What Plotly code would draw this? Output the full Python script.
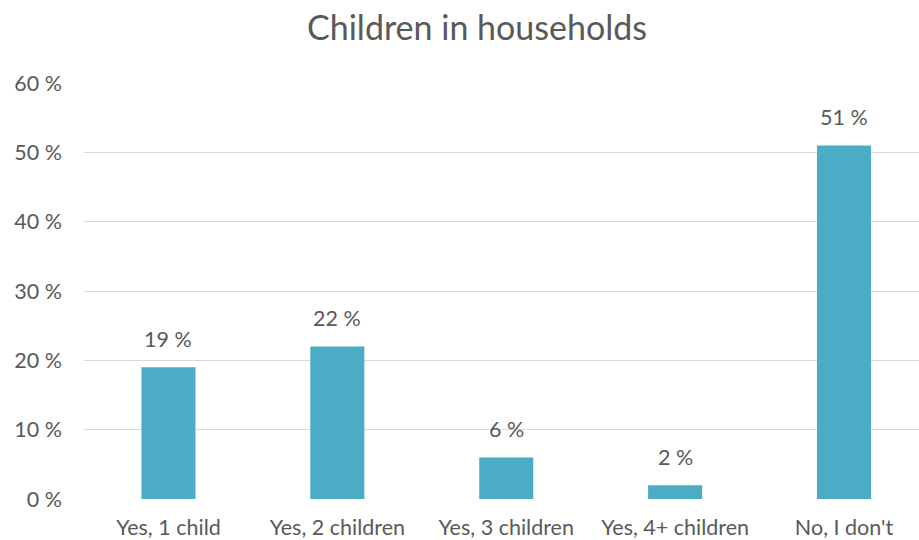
import plotly.graph_objects as go

categories = ["Yes, 1 child", "Yes, 2 children", "Yes, 3 children", "Yes, 4+ children", "No, I don't"]
shares = [19, 22, 6, 2, 51]
y_ticks = [0, 10, 20, 30, 40, 50, 60]
y_tick_labels = [f"{v} %" for v in y_ticks]

BAR = "#4BACC6"
TEXT = "#595959"
FONT = "Lato"
LABEL_SIZE = 21.5

fig = go.Figure(
    go.Bar(
        x=categories,
        y=shares,
        marker=dict(color=BAR, line=dict(width=0)),
        width=0.32,
        hoverinfo="skip",
    )
)

# value labels above each bar
for cat, v in zip(categories, shares):
    fig.add_annotation(
        x=cat, y=v, xref="x", yref="y",
        text=f"{v} %", showarrow=False,
        yanchor="bottom", yshift=13,
        font=dict(family=FONT, size=LABEL_SIZE, color=TEXT),
    )

fig.update_layout(
    width=919, height=540,
    margin=dict(l=84, r=0, t=83, b=41),
    paper_bgcolor="white", plot_bgcolor="white",
    showlegend=False,
    title=dict(
        text="Children in households",
        x=477 / 919, xref="container", xanchor="center",
        y=1 - 28 / 540, yref="container", yanchor="middle",
        font=dict(family=FONT, size=34, color=TEXT),
    ),
    xaxis=dict(
        range=[-0.5, 4.444],
        showgrid=False, zeroline=False, showline=False,
        ticks="", tickfont=dict(family=FONT, size=LABEL_SIZE, color=TEXT),
        ticklabelstandoff=13,
    ),
    yaxis=dict(
        range=[0, 60],
        tickvals=y_ticks, ticktext=y_tick_labels,
        showgrid=True, gridcolor="#D9D9D9", gridwidth=1.3,
        zeroline=False, showline=False, ticks="",
        tickfont=dict(family=FONT, size=LABEL_SIZE, color=TEXT),
        ticklabelstandoff=21,
    ),
)

fig.write_html("out.html")
